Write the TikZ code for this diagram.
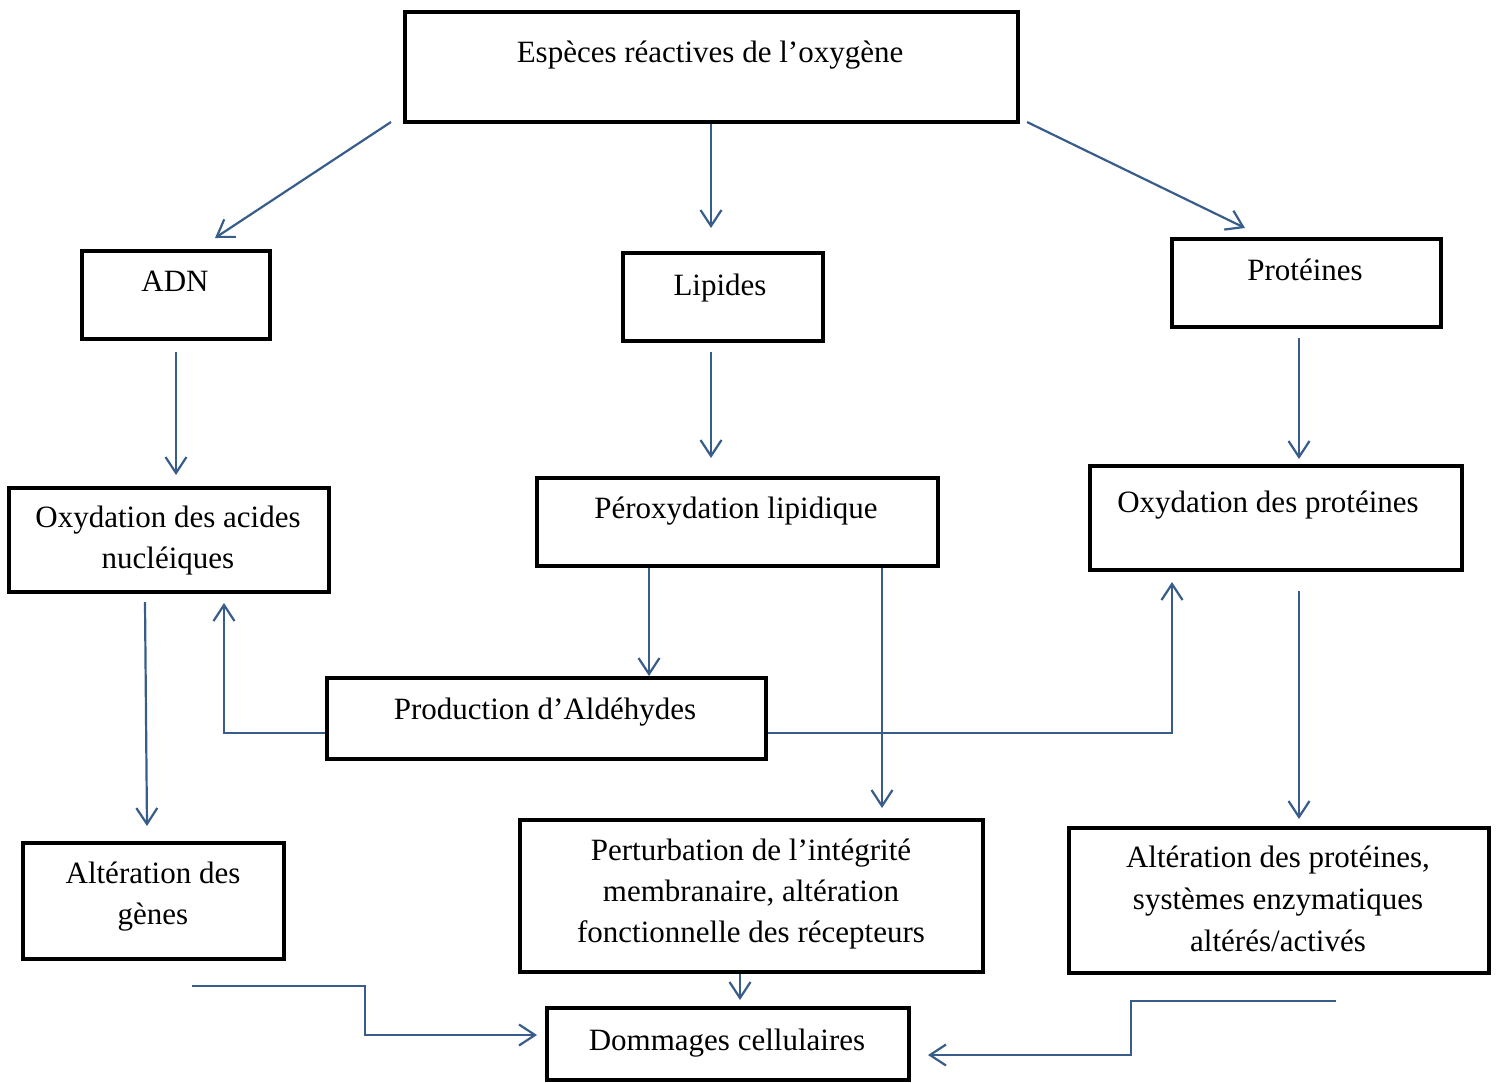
\documentclass[tikz,border=0pt]{standalone}
\usepackage{fontspec}
\setmainfont{Liberation Serif}
\usetikzlibrary{arrows.meta}
\definecolor{arrblue}{HTML}{385D8A}
\newcommand\ls{\rule{0pt}{22pt}}
\tikzset{
  x=1pt,y=-1pt,
  box/.style={draw=black,line width=3.5pt,inner sep=0pt,fill=none},
  lbl/.style={anchor=north,inner sep=0pt,align=center,font=\fontsize{31}{41}\selectfont},
  conn/.style={draw=arrblue,line width=2.2pt},
  arr/.style={conn,-{Straight Barb[length=16pt,width=21pt,line width=2.2pt]}}
}
\newcommand\boxat[5]{% name, x1,y1,x2,y2
  \node[box,minimum width={#4-#2},minimum height={#5-#3}] (#1) at ({(#2+#4)/2},{(#3+#5)/2}) {};}
\begin{document}
\begin{tikzpicture}
\useasboundingbox (0,0) rectangle (1498,1082);
% boxes
\boxat{ros}{405}{12}{1018}{122}
\boxat{adn}{82}{251}{270}{339}
\boxat{lip}{623}{253}{823}{341}
\boxat{prot}{1172}{239}{1441}{327}
\boxat{oxan}{9}{488}{329}{592}
\boxat{perox}{537}{478}{938}{566}
\boxat{oxpr}{1090}{466}{1462}{570}
\boxat{ald}{327}{678}{766}{759}
\boxat{altg}{23}{843}{284}{959}
\boxat{pert}{520}{820}{983}{972}
\boxat{altp}{1069}{828}{1489}{973}
\boxat{dom}{547}{1008}{909}{1080}
% texts
\node[lbl] (rosT) at (710,{62-22}) {\ls Espèces réactives de l’oxygène};
\node[lbl] (adnT) at (175,{291-22}) {\ls ADN};
\node[lbl] (lipT) at (720,{295-22}) {\ls Lipides};
\node[lbl] (protT) at (1305,{280-22}) {\ls Protéines};
\node[lbl] (oxanT) at (168,{527-22}) {\ls Oxydation des acides\\nucléiques};
\node[lbl] (peroxT) at (736,{518-22}) {\ls Péroxydation lipidique};
\node[lbl] (oxprT) at (1268,{512-22}) {\ls Oxydation des protéines};
\node[lbl] (aldT) at (545,{719-22}) {\ls Production d’Aldéhydes};
\node[lbl] (altgT) at (153,{883-22}) {\ls Altération des\\gènes};
\node[lbl] (pertT) at (751,{860-22}) {\ls Perturbation de l’intégrité\\membranaire, altération\\fonctionnelle des récepteurs};
\node[lbl,font=\fontsize{31}{42}\selectfont] (altpT) at (1278,{867-22}) {\ls Altération des protéines,\\systèmes enzymatiques\\altérés/activés};
\node[lbl] (domT) at (727,{1050-22}) {\ls Dommages cellulaires};
% connector end points
\coordinate (a1s) at (391,122); \coordinate (a1e) at (215,238);
\coordinate (a2s) at (711,124); \coordinate (a2e) at (711,228);
\coordinate (a3s) at (1027,122); \coordinate (a3e) at (1245,228);
\coordinate (a4s) at (176,352); \coordinate (a4e) at (176,475);
\coordinate (a5s) at (711,352); \coordinate (a5e) at (711,458);
\coordinate (a6s) at (1299,338); \coordinate (a6e) at (1299,459);
\coordinate (a7s) at (649,568); \coordinate (a7e) at (649,676);
\coordinate (a8s) at (882,568); \coordinate (a8e) at (882,808);
\coordinate (a9e) at (224,603);
\coordinate (a10e) at (1172,582);
\coordinate (a11s) at (145,602); \coordinate (a11e) at (147,826);
\coordinate (a12s) at (1299,591); \coordinate (a12e) at (1299,819);
\coordinate (a13s) at (740,974); \coordinate (a13e) at (740,1000);
\coordinate (a14s) at (192,986); \coordinate (a14e) at (537,1035);
\coordinate (a15s) at (1336,1001); \coordinate (a15e) at (928,1055);
% connectors
\draw[arr] (a1s) -- (a1e);
\draw[arr] (a2s) -- (a2e);
\draw[arr] (a3s) -- (a3e);
\draw[arr] (a4s) -- (a4e);
\draw[arr] (a5s) -- (a5e);
\draw[arr] (a6s) -- (a6e);
\draw[arr] (a7s) -- (a7e);
\draw[arr] (a8s) -- (a8e);
\draw[arr] (ald.west |- 0,733) -| (a9e);
\draw[arr] (ald.east |- 0,733) -| (a10e);
\draw[arr] (a11s) -- (a11e);
\draw[arr] (a12s) -- (a12e);
\draw[arr] (a13s) -- (a13e);
\draw[arr] (a14s) -- (365,986) -- (365,1035) -- (a14e);
\draw[arr] (a15s) -- (1131,1001) -- (1131,1055) -- (a15e);
\end{tikzpicture}
\end{document}
